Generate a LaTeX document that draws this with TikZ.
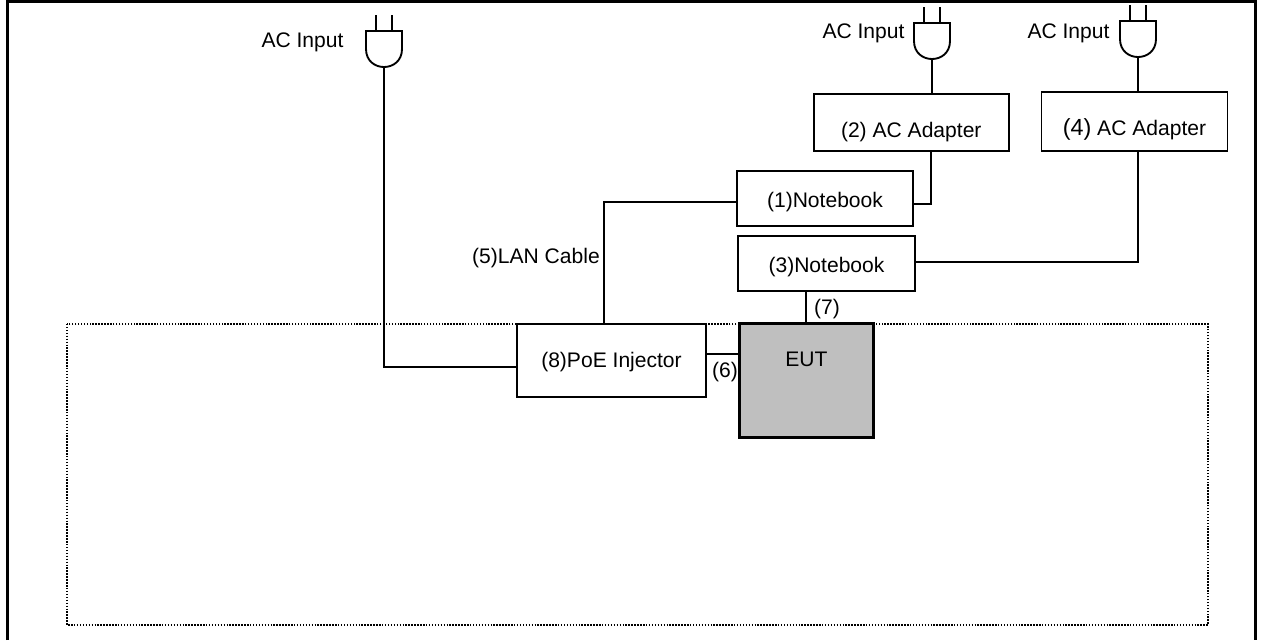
\documentclass[tikz,border=0pt]{standalone}
\usepackage{fontspec}
\setmainfont{Liberation Sans}
\begin{document}
\begin{tikzpicture}[
            x=0.75pt, y=-0.75pt,
            every node/.style={font=\fontsize{15.8}{18}\selectfont},
            wire/.style={line width=1.4pt},
            box node/.style={draw, fill=white, line width=1.4pt, inner sep=0pt, text depth=0pt},
            eut node/.style={draw, fill=black!25, line width=2.25pt, inner sep=0pt, text height=0pt},
            free label/.style={inner sep=0pt},
            plug/.pic={
                \draw[wire] (-18,-36) -- (18,-36) -- (18,-18) .. controls (18,-6) and (9,0) .. (0,0) .. controls (-9,0) and (-18,-6) .. (-18,-18) -- cycle;
                \draw[wire] (-8,-36) -- (-8,-52);
                \draw[wire] (8,-36) -- (8,-52);
            },
            ]
            \useasboundingbox (0,0) rectangle (1261,640);

            \draw[line width=2.8pt] (7.5,640) -- (7.5,1.5) -- (1255.5,1.5) -- (1255.5,640);
            \draw[line width=1.1pt, dash pattern=on 1.1pt off 1.1pt] (67,324) rectangle (1208,625);

            \coordinate (plug1) at (384,67);
            \coordinate (plug2) at (932,59);
            \coordinate (plug3) at (1138,57);
            \pic at (plug1) {plug};
            \pic at (plug2) {plug};
            \pic at (plug3) {plug};

            \node[box node, minimum width=146.5pt, minimum height=42.75pt, text height=21.75pt] (adapter2) at (911.25,122.5) {(2) AC Adapter\hspace{5.6pt}};
            \node[box node, minimum width=139.5pt, minimum height=44.25pt, text height=20.25pt] (adapter4) at (1134.5,121.5) {\fontsize{17.5}{18}\selectfont(4)\fontsize{15.8}{18}\selectfont{} AC Adapter};
            \node[box node, minimum width=131.6pt, minimum height=41.6pt, text height=14pt] (notebook1) at (825,198.4) {(1)Notebook\hspace{3pt}};
            \node[box node, minimum width=132.75pt, minimum height=41.6pt, text height=13.8pt] (notebook3) at (826.5,263.5) {(3)Notebook\hspace{3pt}};
            \node[box node, minimum width=141.75pt, minimum height=54.75pt, text height=10pt] (injector) at (611.5,360.5) {(8)PoE Injector\hspace{3.75pt}};
            \node[eut node, minimum width=100pt, minimum height=85.5pt, text depth=21pt] (eut) at (806.5,380) {EUT};

            \node[free label] (input1) at (302.5,42) {AC Input};
            \node[free label] (input2) at (863.5,33) {AC Input};
            \node[free label] (input3) at (1068.5,33) {AC Input};
            \node[free label] (lan) at (536,258) {(5)LAN Cable};
            \node[free label] (cable6) at (725,372) {(6)};
            \node[free label] (cable7) at (827,309) {(7)};

            \coordinate (bend1) at (604,202);
            \coordinate (bend2) at (931,204);
            \coordinate (bend3) at (1138,262);
            \coordinate (drop7) at (806,323);

            \draw[wire] (plug1) |- (injector.west |- 0,367);
            \draw[wire] (plug2) -- (plug2 |- adapter2.north);
            \draw[wire] (plug3) -- (plug3 |- adapter4.north);
            \draw[wire] (bend2 |- adapter2.south) -- (bend2) -- (notebook1.east |- bend2);
            \draw[wire] (bend3 |- adapter4.south) -- (bend3) -- (notebook3.east |- bend3);
            \draw[wire] (bend1 |- injector.north) -- (bend1) -- (notebook1.west |- bend1);
            \draw[wire] (drop7 |- notebook3.south) -- (drop7);
            \draw[wire] (injector.east |- 0,354) -- (eut.west |- 0,354);
        \end{tikzpicture}
\end{document}
